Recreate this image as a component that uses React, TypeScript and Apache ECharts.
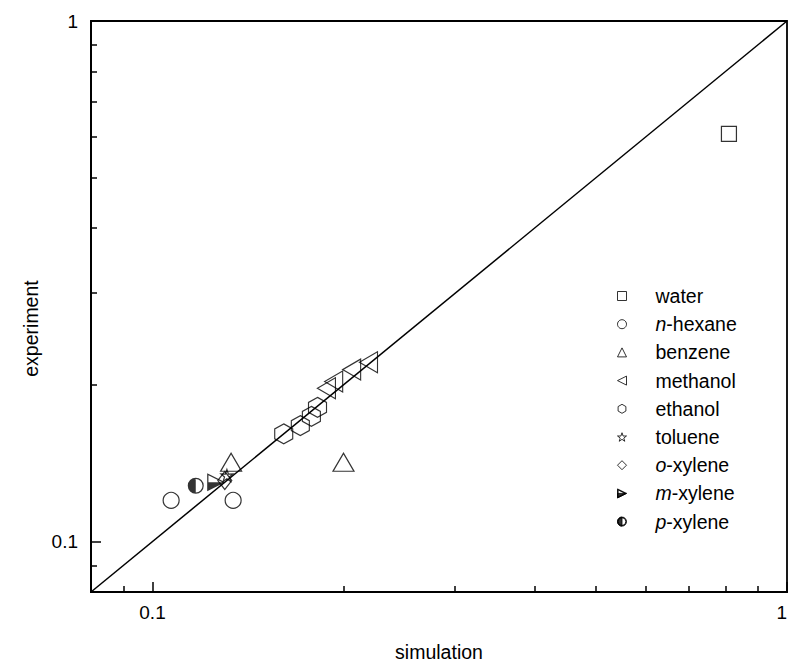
import React, { useEffect, useRef } from "react";
import * as echarts from "echarts";

// ---- data (simulation, experiment) ----
const water = [[0.81, 0.607]];
const nHexane = [[0.107, 0.12], [0.134, 0.12]];
const benzene = [[0.133, 0.142], [0.2, 0.142]];
const methanol = [[0.188, 0.197], [0.193, 0.203], [0.206, 0.214], [0.219, 0.221]];
const ethanol = [[0.161, 0.161], [0.171, 0.167], [0.178, 0.174], [0.182, 0.181]];
const toluene = [[0.131, 0.134]];
const oXylene = [[0.13, 0.131]];
const mXylene = [[0.126, 0.13]];
const pXylene = [[0.117, 0.128]];
const diagonal = [[0.08, 0.08], [1, 1]];

const majorTicks = [0.1, 1];
const minorTicks = [0.09, 0.2, 0.3, 0.4, 0.5, 0.6, 0.7, 0.8, 0.9];
const axisMin = 0.08;
const axisMax = 1;

const legendNames = ["water", "n-hexane", "benzene", "methanol", "ethanol", "toluene", "o-xylene", "m-xylene", "p-xylene"];

const HEX = "path://M50 0 L93.3 25 L93.3 75 L50 100 L6.7 75 L6.7 25 Z";
const STAR = "path://M50 0 L61.8 35.1 L97.6 34.5 L69 56.9 L79.4 90.5 L50 70 L20.6 90.5 L31 56.9 L2.4 34.5 L38.2 35.1 Z";
const LEFT_TRI = "path://M100 0 L100 100 L0 50 Z";
const HALF_TRI = "path://M0 0 L100 50 L0 100 Z M7 11.35 L7 88.65 L84.3 50 Z M0 50 L100 50 L0 100 Z";
const HALF_CIRC = "path://M50 0 A50 50 0 1 1 50 100 A50 50 0 1 1 50 0 Z M50 7.5 A42.5 42.5 0 1 0 50 92.5 A42.5 42.5 0 1 0 50 7.5 Z M50 100 A50 50 0 0 1 50 0 Z";

const FONT = "Arial, 'Liberation Sans', sans-serif";
const INK = "#000";

const hollow = { color: "rgba(0,0,0,0)", borderColor: INK, borderWidth: 1.2 };
const solid = { color: INK, borderColor: INK, borderWidth: 0 };

export default function App() {
  const ref = useRef<HTMLDivElement>(null);
  useEffect(() => {
    if (!ref.current) return;
    const chart = echarts.init(ref.current, null, { renderer: "svg" });
    const logAxisBase = { type: "log", logBase: 10, min: axisMin, max: axisMax, splitLine: { show: false } };
    const fmt = (v: number) => (Math.abs(v - 1) < 1e-9 ? "1" : Math.abs(v - 0.1) < 1e-9 ? "0.1" : "");
    const tickStyle = { color: INK, fontSize: 19, fontFamily: FONT };
    const nameStyle = { color: INK, fontSize: 19.5, fontFamily: FONT };
    const scatter = (name: string, data: number[][], symbol: string, size: any, style: any, extra: any = {}) => ({
      name,
      type: "scatter",
      data,
      symbol,
      symbolSize: size,
      itemStyle: style,
      xAxisIndex: 0,
      yAxisIndex: 0,
      z: 3,
      ...extra,
    });
    chart.setOption({
      animation: false,
      backgroundColor: "#fff",
      grid: {
        left: 91, right: 2, top: 21, bottom: 73,
        containLabel: false,
        outerBoundsMode: "none",
        show: true, borderColor: INK, borderWidth: 1.8,
      },
      xAxis: [
        {
          ...logAxisBase,
          position: "bottom",
          name: "simulation",
          nameLocation: "middle",
          nameGap: 50,
          nameTextStyle: nameStyle,
          axisLine: { show: true, lineStyle: { color: INK, width: 2 } },
          axisTick: { show: true, inside: true, length: 10, customValues: majorTicks, lineStyle: { color: INK, width: 1.5 } },
          axisLabel: { ...tickStyle, margin: 11, customValues: majorTicks, formatter: fmt, alignMaxLabel: "right" },
        },
        {
          ...logAxisBase,
          position: "bottom",
          axisLine: { show: false },
          axisTick: { show: true, inside: true, length: 6, customValues: minorTicks, lineStyle: { color: INK, width: 1.5 } },
          axisLabel: { show: false, customValues: minorTicks },
        },
      ],
      yAxis: [
        {
          ...logAxisBase,
          position: "left",
          name: "experiment",
          nameLocation: "middle",
          nameGap: 49,
          nameTextStyle: { ...nameStyle, padding: [0, 44, 0, 0] },
          axisLine: { show: true, lineStyle: { color: INK, width: 2 } },
          axisTick: { show: true, inside: true, length: 10, customValues: majorTicks, lineStyle: { color: INK, width: 1.5 } },
          axisLabel: { ...tickStyle, margin: 13, customValues: majorTicks, formatter: fmt },
        },
        {
          ...logAxisBase,
          position: "left",
          axisLine: { show: false },
          axisTick: { show: true, inside: true, length: 6, customValues: minorTicks, lineStyle: { color: INK, width: 1.5 } },
          axisLabel: { show: false, customValues: minorTicks },
        },
      ],
      legend: {
        orient: "vertical",
        left: 612,
        top: 281,
        itemWidth: 9,
        itemHeight: 9,
        itemGap: 8.2,
        data: legendNames.map((n) => (n === "methanol" ? { name: n, icon: LEFT_TRI } : n)),
        itemStyle: { borderWidth: 1 },
        formatter: (name: string) => {
          const m = /^([nopm])-(.*)$/.exec(name);
          if (m) return `{s|}{i|${m[1]}}{t|-${m[2]}}`;
          return `{s|}{t|${name}}`;
        },
        textStyle: {
          color: INK,
          fontSize: 19.5,
          fontFamily: FONT,
          lineHeight: 18,
          rich: {
            s: { width: 24, lineHeight: 18 },
            t: { color: INK, fontSize: 19.5, fontFamily: FONT, lineHeight: 18 },
            i: { color: INK, fontSize: 19.5, fontFamily: FONT, fontStyle: "italic", lineHeight: 18 },
          },
        },
      },
      series: [
        {
          type: "line",
          data: diagonal,
          showSymbol: false,
          symbol: "none",
          lineStyle: { color: INK, width: 1.5 },
          xAxisIndex: 0,
          yAxisIndex: 0,
          silent: true,
          z: 2,
        },
        scatter("water", water, "rect", 15, hollow),
        scatter("n-hexane", nHexane, "circle", 16, hollow),
        scatter("benzene", benzene, "triangle", [21, 18], hollow),
        scatter("methanol", methanol, "triangle", [21, 18], hollow, { symbolRotate: 90 }),
        scatter("ethanol", ethanol, HEX, [18, 20], hollow),
        scatter("toluene", toluene, STAR, 12, hollow),
        scatter("o-xylene", oXylene, "diamond", [14, 18], hollow),
        scatter("m-xylene", mXylene, HALF_TRI, [18, 18], solid),
        scatter("p-xylene", pXylene, HALF_CIRC, 16, solid),
      ],
    });
    return () => chart.dispose();
  }, []);
  return <div ref={ref} style={{ position: "fixed", left: 0, top: 0, width: 789, height: 665 }} />;
}
